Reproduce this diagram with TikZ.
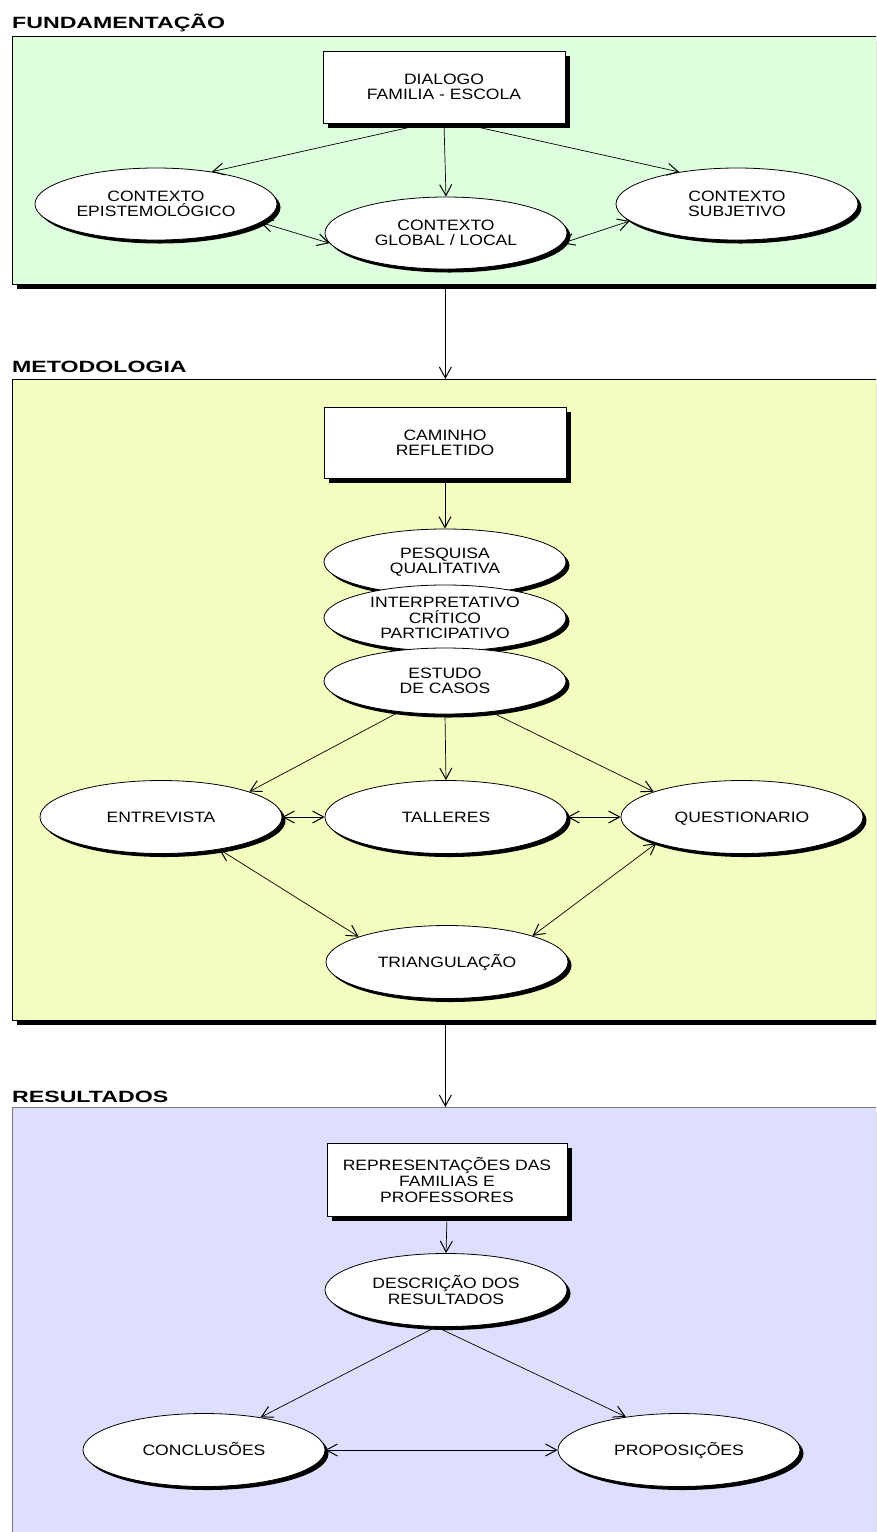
\documentclass[tikz,border=0pt]{standalone}
\usepackage{fontspec}
\setmainfont{Liberation Sans}[FakeStretch=1.17]
\newfontfamily\headfont{Liberation Sans}[FakeStretch=1.42]
\usetikzlibrary{arrows.meta,shapes.geometric,shadows}

\definecolor{fundfill}{RGB}{221,255,221}
\definecolor{metofill}{RGB}{242,253,192}
\definecolor{resfill}{RGB}{222,222,255}
\definecolor{resedge}{RGB}{120,120,120}

\begin{document}
\begin{tikzpicture}[x=1pt,y=-1pt,
  font=\fontsize{15}{15.5}\selectfont,
  >={Straight Barb[length=11pt,width=12pt,line width=1pt]},
  solidshadow/.style={drop shadow={shadow xshift=#1,shadow yshift=-#1,fill=black,opacity=1}},
  oval/.style={ellipse,draw=black,line width=0.8pt,fill=white,
    minimum width=242pt,minimum height=73pt,inner sep=0pt,align=center,
    solidshadow=3.5pt},
  oneline/.style={text height=10.7pt,text depth=0pt},
  card/.style={rectangle,draw=black,line width=0.8pt,fill=white,
    minimum width=242pt,minimum height=72pt,inner sep=0pt,align=center,
    solidshadow=4.5pt},
  panel/.style={rectangle,draw=black,line width=0.7pt,minimum width=866pt,
    inner sep=0pt,anchor=north west,solidshadow=4.5pt},
  heading/.style={anchor=base west,inner sep=0pt,
    font=\headfont\bfseries\fontsize{16.3}{18}\selectfont},
  link/.style={line width=0.7pt,->},
  twoway/.style={line width=0.7pt,<->}
]
\useasboundingbox (0,0) rectangle (876,1532);
\fill[white] (0,0) rectangle (876,1532);
\clip (0,0) rectangle (876,1532);

% ---------- Fundamentação ----------
\node[heading] (hfund) at (12,28) {FUNDAMENTAÇÃO};
\node[panel,fill=fundfill,minimum height=248pt] (pfund) at (12,36) {};
\node[card] (dlg) at (444,87) {DIALOGO\\FAMILIA - ESCOLA};
\node[oval,minimum height=72pt] (epi) at (156,204) {CONTEXTO\\EPISTEMOLÓGICO};
\node[oval,minimum height=72pt] (glob) at (446,233) {CONTEXTO\\GLOBAL / LOCAL};
\node[oval,minimum height=72pt] (subj) at (737,204) {CONTEXTO\\SUBJETIVO};

\draw[link] (dlg.-115) -- (epi.30);
\draw[link] (dlg.south) -- (glob.north);
\draw[link] (dlg.-65) -- (subj.151);
\draw[twoway] (epi.-10) -- (glob.185);
\draw[twoway] (glob.-5) -- (subj.189);

% ---------- Metodologia ----------
\node[heading] (hmet) at (12,372) {METODOLOGIA};
\node[panel,fill=metofill,minimum height=641pt] (pmet) at (12,379) {};
\node[card,minimum height=71pt] (cam) at (445,443) {CAMINHO\\REFLETIDO};
\node[oval,minimum height=66pt] (pesq) at (445,562) {PESQUISA\\QUALITATIVA};
\node[oval,minimum height=66pt] (interp) at (445,618) {INTERPRETATIVO\\CRÍTICO\\PARTICIPATIVO};
\node[oval,minimum height=66pt] (est) at (445,681) {ESTUDO\\DE CASOS};
\node[oval,oneline] (entr) at (161,817) {ENTREVISTA};
\node[oval,oneline] (tall) at (446,817) {TALLERES};
\node[oval,oneline] (quest) at (742,817) {QUESTIONARIO};
\node[oval,oneline] (tri) at (447,962) {TRIANGULAÇÃO};

\draw[link] (cam.south) -- (pesq.north);
\draw[link] (est.-146) -- (entr.16);
\draw[link] (est.south) -- (tall.north);
\draw[link] (est.-34) -- (quest.164);
\draw[twoway] (entr.east) -- (tall.west);
\draw[twoway] (tall.east) -- (quest.west);
\draw[twoway] (entr.-29) -- (tri.164);
\draw[twoway] (quest.-163) -- (tri.17);

% ---------- Resultados ----------
\node[heading] (hres) at (12,1102) {RESULTADOS};
\node[panel,draw=resedge,fill=resfill,minimum height=460pt] (pres) at (12,1107) {};
\node[card,minimum width=240pt,minimum height=73pt,
  font=\fontsize{15}{16}\selectfont] (rep) at (447,1180)
  {REPRESENTAÇÕES DAS\\FAMILIAS E\\PROFESSORES};
\node[oval] (desc) at (446,1290) {DESCRIÇÃO DOS\\RESULTADOS};
\node[oval,oneline] (conc) at (204,1450) {CONCLUSÕES};
\node[oval,oneline] (prop) at (679,1450) {PROPOSIÇÕES};

\draw[link] (rep.south) -- (desc.north);
\draw[link] (desc.-105) -- (conc.30);
\draw[link] (desc.-105) -- (prop.148);
\draw[twoway] (conc.east) -- (prop.west);

% ---------- links between the sections ----------
\draw[link] ([yshift=-4.5pt]pfund.south) -- (pmet.north);
\draw[link] ([yshift=-4.5pt]pmet.south) -- (pres.north);
\end{tikzpicture}
\end{document}
